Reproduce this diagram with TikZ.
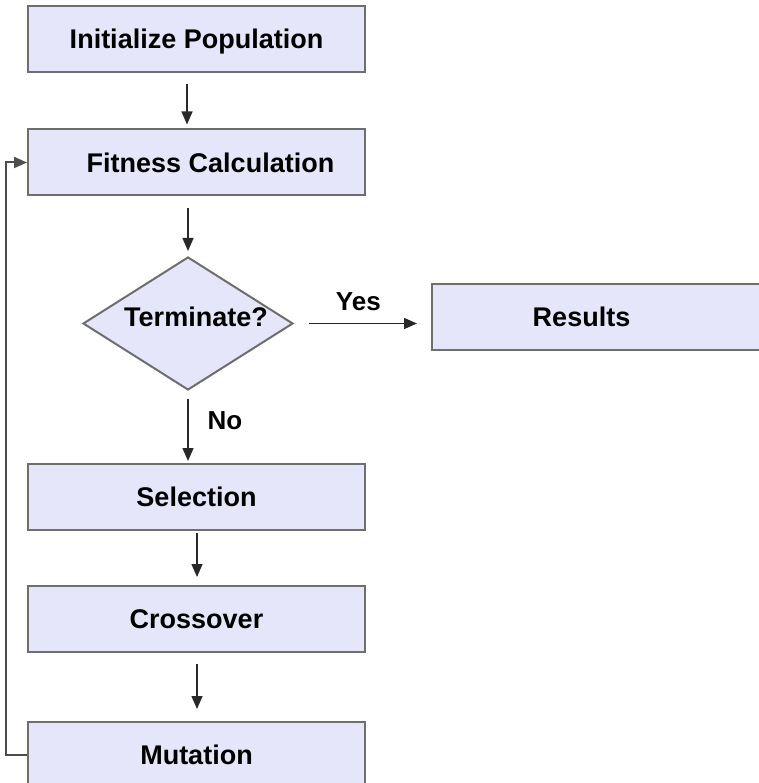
\documentclass[tikz,border=0pt]{standalone}
\usepackage{fontspec}
\setmainfont{Liberation Sans}
\usetikzlibrary{shapes.geometric,arrows.meta}
\definecolor{boxfill}{RGB}{230,230,250}
\definecolor{boxline}{RGB}{110,110,110}
\definecolor{arrline}{RGB}{40,40,40}
\begin{document}
\begin{tikzpicture}[x=1pt,y=-1pt,
  stepbox/.style={draw=boxline,line width=2pt,fill=boxfill,minimum width=337pt,minimum height=66pt,
    inner sep=0pt,font=\fontsize{27}{30}\selectfont\bfseries,text=black,text height=19.4pt,text depth=0pt},
  decbox/.style={draw=boxline,line width=2pt,fill=boxfill,diamond,minimum width=210pt,minimum height=133pt,inner sep=0pt},
  lbl/.style={font=\fontsize{26}{30}\selectfont\bfseries,text=black,inner sep=0pt,text height=18.7pt,text depth=0pt},
  arr/.style={draw=arrline,line width=1.4pt,-{Triangle[length=13pt,width=11pt]}}]
\useasboundingbox (0,0) rectangle (758,783);
\node[stepbox] (init) at (196.5,39) {Initialize Population};
\node[stepbox] (fit) at (196.5,162.5) {\hspace*{28pt}Fitness Calculation};
\node[decbox] (term) at (188,323.5) {};
\node[lbl,font=\fontsize{27}{30}\selectfont\bfseries,text height=19.4pt] (termtxt) at (196,317) {Terminate?};
\node[stepbox] (res) at (600.5,317) {\hspace*{-38pt}Results};
\node[stepbox] (sel) at (196.5,497) {Selection};
\node[stepbox] (cross) at (196.5,619) {Crossover};
\node[stepbox] (mut) at (196.5,755) {Mutation};
\draw[arr,shorten <=11pt,shorten >=4pt] ([xshift=-9.5pt]init.south) -- ([xshift=-9.5pt]fit.south |- fit.north);
\draw[arr,shorten <=12pt,shorten >=5pt] (fit.south -| term.north) -- (term.north);
\draw[arr,shorten <=15pt,shorten >=14pt] (term.east) -- (term.east -| res.west) node[lbl,pos=0.47,above=12pt] (yes) {Yes};
\draw[arr,shorten <=8pt,shorten >=2pt] (term.south) -- (term.south |- sel.north);
\node[lbl] (no) at (225,420) {No};
\draw[arr,shorten <=2pt,shorten >=8pt] ([xshift=0.5pt]sel.south) -- ([xshift=0.5pt]cross.north);
\draw[arr,shorten <=11pt,shorten >=12pt] ([xshift=0.5pt]cross.south) -- ([xshift=0.5pt]mut.north);
\coordinate (c1) at (6,755);
\coordinate (c2) at (6,162.5);
\draw[arr,draw=boxline!70!black,line width=2pt] (mut.west) -- (c1) -- (c2) -- (fit.west);
\end{tikzpicture}
\end{document}
